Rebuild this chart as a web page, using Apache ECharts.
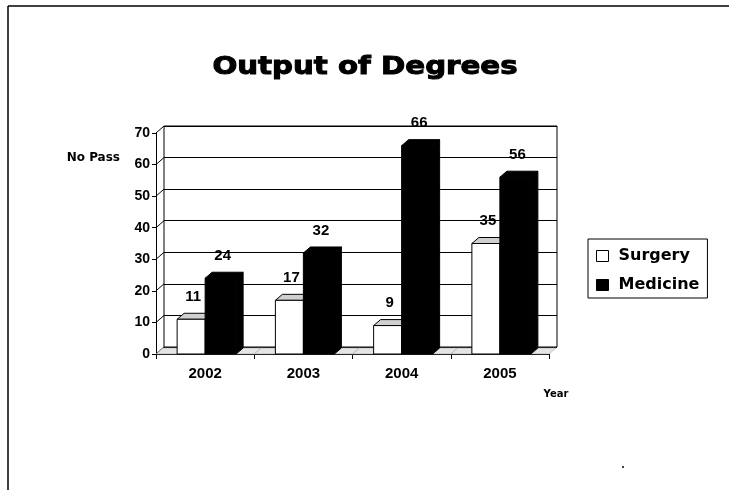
<!DOCTYPE html>
<html>
<head>
<meta charset="utf-8">
<script src="https://cdn.jsdelivr.net/npm/echarts@6/dist/echarts.min.js"></script>
<style>
  html, body { margin: 0; padding: 0; background: #fff; }
  #main { width: 729px; height: 490px; }
</style>
</head>
<body>
<div id="main"></div>
<script>
// data
const years = ['2002', '2003', '2004', '2005']
const surgery = [11, 17, 9, 35]
const medicine = [24, 32, 66, 56]
const yTicks = [0, 10, 20, 30, 40, 50, 60, 70]

const chart = echarts.init(document.getElementById('main'))

// depth of the fake 3d look
const DX = 7
const DY = 6
const font = 'Liberation Sans, Arial, sans-serif'
const heavy = 'DejaVu Sans'

// one bar with front, side and top faces, plus its value label
const makeBar = (left, right, fill, topFill) => (params, api) => {
  const i = api.value(0)
  const v = api.value(1)
  const base = api.coord([i, 0])
  const top = api.coord([i, v])
  const x0 = base[0] + left
  const x1 = base[0] + right
  const y0 = top[1]
  const y1 = base[1]
  const line = { stroke: '#000', lineWidth: 1 }
  return {
    type: 'group',
    children: [
      {
        type: 'polygon',
        shape: { points: [[x1, y1], [x1 + DX, y1 - DY], [x1 + DX, y0 - DY], [x1, y0]] },
        style: Object.assign({ fill: fill }, line)
      },
      {
        type: 'polygon',
        shape: { points: [[x0, y0], [x0 + DX, y0 - DY], [x1 + DX, y0 - DY], [x1, y0]] },
        style: Object.assign({ fill: topFill }, line)
      },
      {
        type: 'rect',
        shape: { x: x0, y: y0, width: x1 - x0, height: y1 - y0 },
        style: Object.assign({ fill: fill }, line)
      },
      {
        type: 'text',
        x: (x0 + x1) / 2 + 2,
        y: y0 - DY - 9,
        style: {
          text: String(v),
          fill: '#000',
          font: 'bold 15px ' + font,
          textAlign: 'center',
          textVerticalAlign: 'bottom'
        }
      }
    ]
  }
}

// floor strip for each category band
const renderFloor = (params, api) => {
  const i = api.value(0)
  const base = api.coord([i, 0])
  const band = api.size([1, 0])[0]
  const l = base[0] - band / 2
  const r = base[0] + band / 2
  const y = base[1]
  return {
    type: 'polygon',
    shape: { points: [[l, y], [r, y], [r + DX, y - DY], [l + DX, y - DY]] },
    style: { fill: '#e4e4e4', stroke: '#999', lineWidth: 0.5 }
  }
}

// short slanted lines on the left side wall, one per tick
const renderWall = (params, api) => {
  const p = api.coord([0, api.value(1)])
  const x = params.coordSys.x
  return {
    type: 'line',
    shape: { x1: x, y1: p[1], x2: x + 8, y2: p[1] - 7 },
    style: { stroke: '#000', lineWidth: 1 }
  }
}

const option = {
  animation: false,
  backgroundColor: '#fff',
  legend: {
    orient: 'vertical',
    left: 588,
    top: 239,
    padding: [9, 8, 5, 8],
    itemGap: 13,
    itemWidth: 12,
    itemHeight: 11,
    borderColor: '#000',
    borderWidth: 1,
    textStyle: { fontFamily: heavy, fontWeight: 'bold', fontSize: 16, lineHeight: 16, color: '#000', padding: [0, 0, 0, 5] },
    data: [
      { name: 'Surgery', icon: 'rect', itemStyle: { color: '#fff', borderColor: '#000', borderWidth: 1 } },
      { name: 'Medicine', icon: 'rect', itemStyle: { color: '#000', borderColor: '#000', borderWidth: 1 } }
    ]
  },
  grid: [
    { left: 156, right: 180, top: 133, bottom: 136 },
    { left: 164, right: 172, top: 126, bottom: 143, show: true, borderColor: '#000', borderWidth: 1 }
  ],
  xAxis: [
    {
      type: 'category',
      gridIndex: 0,
      data: years,
      axisLine: { lineStyle: { color: '#000' } },
      axisTick: { show: true, length: 5, lineStyle: { color: '#000' } },
      axisLabel: { margin: 12, fontFamily: font, fontWeight: 'bold', fontSize: 15, color: '#000' }
    },
    {
      type: 'category',
      gridIndex: 1,
      data: years,
      show: false
    }
  ],
  yAxis: [
    {
      type: 'value',
      gridIndex: 0,
      min: yTicks[0],
      max: yTicks[yTicks.length - 1],
      interval: 10,
      axisLine: { show: true, lineStyle: { color: '#000' } },
      axisTick: { show: true, length: 4, lineStyle: { color: '#000' } },
      splitLine: { show: false },
      axisLabel: { margin: 6, fontFamily: font, fontWeight: 'bold', fontSize: 14, color: '#000' }
    },
    {
      type: 'value',
      gridIndex: 1,
      min: yTicks[0],
      max: yTicks[yTicks.length - 1],
      interval: 10,
      axisLine: { show: false },
      axisTick: { show: false },
      axisLabel: { show: false },
      splitLine: { show: true, lineStyle: { color: '#000', width: 1 } }
    }
  ],
  graphic: [
    { type: 'line', shape: { x1: 8, y1: 6, x2: 729, y2: 6 }, style: { stroke: '#000', lineWidth: 1.5 } },
    { type: 'line', shape: { x1: 8, y1: 6, x2: 8, y2: 490 }, style: { stroke: '#000', lineWidth: 1.5 } },
    {
      type: 'text', x: 365, y: 67, scaleX: 1.17,
      style: {
        text: 'Output of Degrees', font: 'bold 25px ' + heavy, fill: '#000',
        stroke: '#000', lineWidth: 1, textAlign: 'center', textVerticalAlign: 'middle'
      }
    },
    {
      type: 'text', x: 120, y: 158,
      style: { text: 'No Pass', font: 'bold 12px ' + heavy, fill: '#000', textAlign: 'right', textVerticalAlign: 'middle' }
    },
    {
      type: 'text', x: 556, y: 394,
      style: { text: 'Year', font: 'bold 10px ' + heavy, fill: '#000', textAlign: 'center', textVerticalAlign: 'middle' }
    },
    { type: 'circle', shape: { cx: 623, cy: 467, r: 1 }, style: { fill: '#000' } }
  ],
  series: [
    {
      name: 'wall',
      type: 'custom',
      xAxisIndex: 0,
      yAxisIndex: 0,
      z: 1,
      renderItem: renderWall,
      data: yTicks.map(v => [0, v]),
      silent: true
    },
    {
      name: 'floor',
      type: 'custom',
      xAxisIndex: 0,
      yAxisIndex: 0,
      z: 1,
      renderItem: renderFloor,
      data: years.map((y, i) => [i, 0]),
      silent: true
    },
    {
      name: 'Surgery',
      type: 'custom',
      xAxisIndex: 0,
      yAxisIndex: 0,
      z: 2,
      itemStyle: { color: '#fff', borderColor: '#000' },
      renderItem: makeBar(-28, 0, '#fff', '#cfcfcf'),
      data: surgery.map((v, i) => [i, v])
    },
    {
      name: 'Medicine',
      type: 'custom',
      xAxisIndex: 0,
      yAxisIndex: 0,
      z: 3,
      itemStyle: { color: '#000', borderColor: '#000' },
      renderItem: makeBar(0, 31, '#000', '#000'),
      data: medicine.map((v, i) => [i, v])
    }
  ]
}

chart.setOption(option)
</script>
</body>
</html>
